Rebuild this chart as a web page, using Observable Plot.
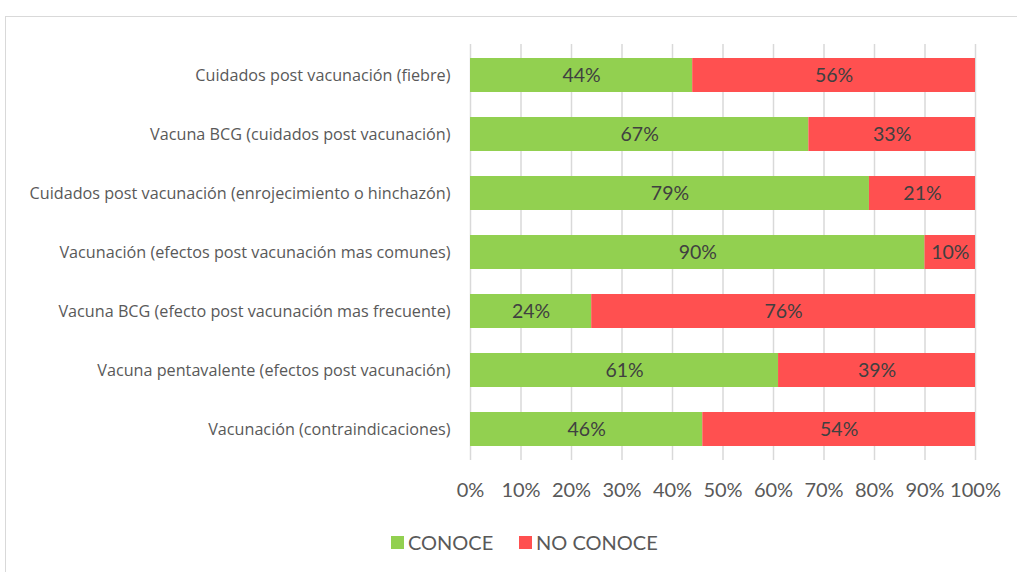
<!DOCTYPE html>
<html>
<head>
<meta charset="utf-8">
<script src="https://cdn.jsdelivr.net/npm/d3@7"></script>
<script src="https://cdn.jsdelivr.net/npm/@observablehq/plot@0.6"></script>
<style>
  html, body { margin: 0; padding: 0; background: #fff; overflow: hidden; width: 1017px; height: 572px; }
  #frame { position: absolute; left: 5px; top: 16px; width: 1100px; height: 700px; border: 1.5px solid #d9d9d9; box-sizing: border-box; }
  #chart { position: absolute; left: 0; top: 0; }
  #legend { position: absolute; top: 530px; left: 0; width: 1017px; font-family: Lato, "Open Sans", sans-serif; font-size: 20px; color: #595959; }
  .item { position: absolute; top: 0; display: flex; align-items: center; }
  .sw { width: 13px; height: 13px; margin-right: 4px; }
</style>
</head>
<body>
<div id="frame"></div>
<div id="chart"></div>
<div id="legend"></div>
<script>
const categories = [
  "Cuidados post vacunación (fiebre)",
  "Vacuna BCG (cuidados post vacunación)",
  "Cuidados post vacunación (enrojecimiento o hinchazón)",
  "Vacunación (efectos post vacunación mas comunes)",
  "Vacuna BCG (efecto post vacunación mas frecuente)",
  "Vacuna pentavalente (efectos post vacunación)",
  "Vacunación (contraindicaciones)"
];
const conoce = [44, 67, 79, 90, 24, 61, 46];
const noConoce = [56, 33, 21, 10, 76, 39, 54];
const seriesNames = ["CONOCE", "NO CONOCE"];
const seriesColors = ["#92D050", "#FF5050"];
const xTicks = [0, 10, 20, 30, 40, 50, 60, 70, 80, 90, 100];

const rows = [];
categories.forEach((c, i) => {
  rows.push({cat: c, serie: seriesNames[0], v: conoce[i]});
  rows.push({cat: c, serie: seriesNames[1], v: noConoce[i]});
});

const font = 'Lato, "Open Sans", sans-serif';

const chart = Plot.plot({
  width: 1017,
  height: 520,
  marginLeft: 470,
  marginRight: 42,
  marginTop: 44,
  marginBottom: 60,
  style: {fontFamily: font, background: "transparent"},
  x: {domain: [0, 100], axis: null, label: null},
  y: {domain: categories, paddingInner: 0.42, paddingOuter: 0.22, axis: null, label: null},
  color: {domain: seriesNames, range: seriesColors},
  marks: [
    Plot.gridX(xTicks, {stroke: "#d9d9d9", strokeOpacity: 1, strokeWidth: 1.5}),
    Plot.barX(rows, Plot.stackX({x: "v", y: "cat", fill: "serie", order: seriesNames})),
    Plot.text(rows, Plot.stackX({x: "v", y: "cat", z: "serie", order: seriesNames, text: d => d.v + "%", fill: "#404040", fontSize: 19.5})),
    Plot.axisX(xTicks, {tickSize: 0, tickPadding: 22, fontSize: 20, color: "#595959", tickFormat: d => d + "%", label: null}),
    Plot.axisY({tickSize: 0, tickPadding: 20, fontSize: 16.2, fontFamily: '"Open Sans", sans-serif', color: "#595959", label: null})
  ]
});
document.getElementById("chart").appendChild(chart);

const leg = document.getElementById("legend");
const lefts = [391, 519];
seriesNames.forEach((s, i) => {
  const it = document.createElement("div");
  it.className = "item";
  it.style.left = lefts[i] + "px";
  it.innerHTML = `<span class="sw" style="background:${seriesColors[i]}"></span><span>${s}</span>`;
  leg.appendChild(it);
});
</script>
</body>
</html>
